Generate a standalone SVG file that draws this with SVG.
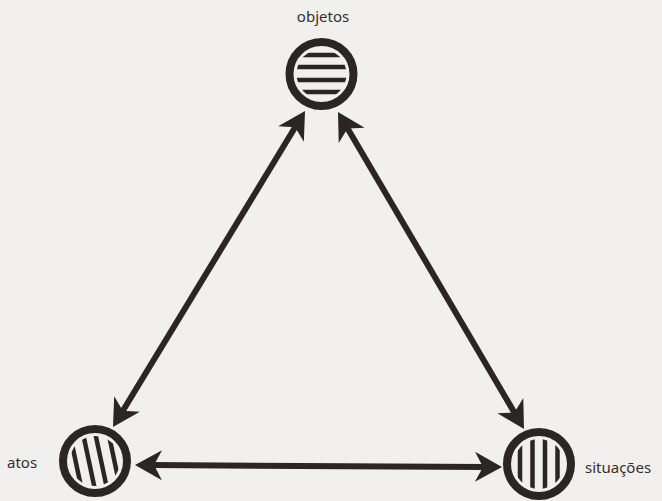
<svg xmlns="http://www.w3.org/2000/svg" width="662" height="501" viewBox="0 0 662 501">
<style>
.ring{fill:none;stroke:#2b2526;stroke-width:8}
.stripe{stroke:#2b2526;stroke-width:4.5;stroke-linecap:butt}
.conn{stroke:#2b2526;stroke-width:6;fill:none}
.lbl{font-family:"Noto Sans","DejaVu Sans",sans-serif;font-size:15px;fill:#342e2f}
</style>
<defs>
<marker id="ah" markerUnits="userSpaceOnUse" viewBox="-28 -17 30 34" refX="-17" refY="0" markerWidth="30" markerHeight="34" orient="auto-start-reverse">
<path d="M0,0 L-27,-15 L-19,0 L-27,15 Z" fill="#2b2526"/>
</marker>
<clipPath id="cTop"><circle cx="321.5" cy="74" r="25"/></clipPath>
<clipPath id="cLeft"><circle cx="95" cy="461" r="25"/></clipPath>
<clipPath id="cRight"><circle cx="539" cy="464" r="25"/></clipPath>
</defs>
<rect width="662" height="501" fill="#f2f0ee"/>
<g id="connectors">
<line class="conn" x1="296.2" y1="125.5" x2="121.8" y2="412.5" marker-start="url(#ah)" marker-end="url(#ah)"/>
<line class="conn" x1="346.6" y1="126.7" x2="515.4" y2="414.3" marker-start="url(#ah)" marker-end="url(#ah)"/>
<line class="conn" x1="152" y1="465.1" x2="485" y2="466.9" marker-start="url(#ah)" marker-end="url(#ah)"/>
</g>
<g id="objetos">
<circle class="ring" cx="321.5" cy="74" r="32"/>
<g clip-path="url(#cTop)">
<line class="stripe" x1="290" y1="55" x2="352" y2="55"/>
<line class="stripe" x1="290" y1="67" x2="352" y2="67"/>
<line class="stripe" x1="290" y1="80" x2="352" y2="80"/>
<line class="stripe" x1="290" y1="92" x2="352" y2="92"/>
</g>
<text class="lbl" x="323" y="22" text-anchor="middle">objetos</text>
</g>
<g id="atos">
<circle class="ring" cx="95" cy="461" r="32"/>
<g clip-path="url(#cLeft)">
<g transform="rotate(-12 95 461)">
<line class="stripe" x1="76" y1="430" x2="76" y2="492"/>
<line class="stripe" x1="89" y1="430" x2="89" y2="492"/>
<line class="stripe" x1="101" y1="430" x2="101" y2="492"/>
<line class="stripe" x1="114" y1="430" x2="114" y2="492"/>
</g>
</g>
<text class="lbl" x="7" y="468">atos</text>
</g>
<g id="situacoes">
<circle class="ring" cx="539" cy="464" r="32"/>
<g clip-path="url(#cRight)">
<line class="stripe" x1="520" y1="430" x2="520" y2="500"/>
<line class="stripe" x1="532.5" y1="430" x2="532.5" y2="500"/>
<line class="stripe" x1="545" y1="430" x2="545" y2="500"/>
<line class="stripe" x1="557.5" y1="430" x2="557.5" y2="500"/>
</g>
<text class="lbl" x="585" y="473">situações</text>
</g>
</svg>
